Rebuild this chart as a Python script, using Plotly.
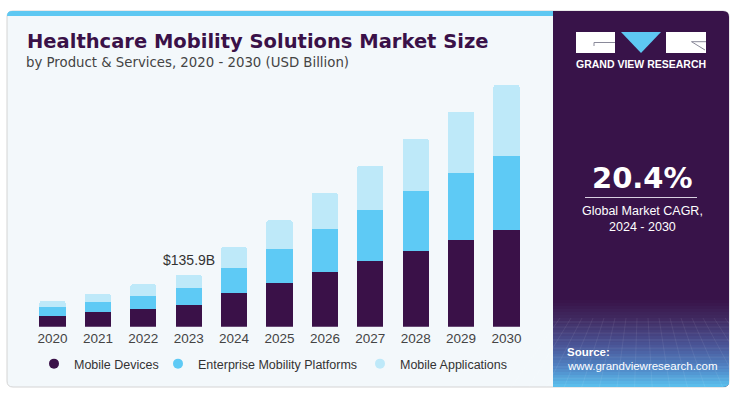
import plotly.graph_objects as go

years = ["2020", "2021", "2022", "2023", "2024", "2025", "2026", "2027", "2028", "2029", "2030"]
mobile_devices = [28.7, 38.4, 45.5, 55.9, 87.3, 115.0, 143.0, 170.9, 198.6, 226.6, 252.7]
enterprise_platforms = [22.0, 26.9, 35.5, 46.0, 66.1, 88.9, 112.4, 134.9, 156.0, 174.3, 194.2]
mobile_applications = [17.2, 20.9, 29.8, 34.0, 54.1, 74.2, 94.1, 114.2, 135.9, 161.0, 185.6]
series_names = ["Mobile Devices", "Enterprise Mobility Platforms", "Mobile Applications"]
highlight_year = "2023"
highlight_label = "$135.9B"
cagr_value = "20.4%"
cagr_text = "Global Market CAGR,<br>2024 - 2030"

W, H = 736, 396
C_DARK = "#3a1148"
C_MID = "#5ecaf5"
C_LIGHT = "#bee9f9"
C_PANEL = "#381349"
C_BG = "#f3f8fb"


def X(p):
    return p / W


def Y(p):
    return 1 - p / H


fig = go.Figure()
series = [mobile_devices, enterprise_platforms, mobile_applications]
colors = [C_DARK, C_MID, C_LIGHT]
legend_ids = ["legend", "legend2", "legend3"]
for name, vals, col in zip(series_names, series, colors):
    fig.add_trace(go.Bar(x=years, y=vals, name=name, marker=dict(color=col, line=dict(width=0)),
                         showlegend=False, hoverinfo="x+y+name"))
for name, col, lid in zip(series_names, colors, legend_ids):
    fig.add_trace(go.Scatter(x=[None], y=[None], mode="markers", name=name, legend=lid,
                             marker=dict(color=col, size=10, symbol="circle")))

shapes = []


def rrect(x0, y0, x1, y1, r_tl=0, r_tr=0, r_br=0, r_bl=0):
    s = f"M {X(x0 + r_tl)} {Y(y0)} L {X(x1 - r_tr)} {Y(y0)} "
    if r_tr:
        s += f"Q {X(x1)} {Y(y0)} {X(x1)} {Y(y0 + r_tr)} "
    s += f"L {X(x1)} {Y(y1 - r_br)} "
    if r_br:
        s += f"Q {X(x1)} {Y(y1)} {X(x1 - r_br)} {Y(y1)} "
    s += f"L {X(x0 + r_bl)} {Y(y1)} "
    if r_bl:
        s += f"Q {X(x0)} {Y(y1)} {X(x0)} {Y(y1 - r_bl)} "
    s += f"L {X(x0)} {Y(y0 + r_tl)} "
    if r_tl:
        s += f"Q {X(x0)} {Y(y0)} {X(x0 + r_tl)} {Y(y0)} "
    s += "Z"
    return s


# card background
shapes.append(dict(type="path", xref="paper", yref="paper", layer="below",
                   path=rrect(7, 11, 729, 387, 6, 6, 6, 6), fillcolor=C_BG,
                   line=dict(color="#d4d4d4", width=1)))
# top stripe
shapes.append(dict(type="path", xref="paper", yref="paper", layer="below",
                   path=rrect(7, 11, 553, 16, 5, 0, 0, 0), fillcolor="#5ec8f2", line=dict(width=0)))
# dark right panel
shapes.append(dict(type="path", xref="paper", yref="paper", layer="below",
                   path=rrect(553, 11, 729, 387, 0, 6, 6, 0), fillcolor=C_PANEL, line=dict(width=0)))


def hex2rgb(h):
    h = h.lstrip("#")
    return tuple(int(h[i:i + 2], 16) for i in (0, 2, 4))


stops = [(300, "#381349"), (318, "#40295f"), (345, "#4a5496"), (368, "#5086c6"), (387, "#5cc2ee")]
y = 300
step = 3
while y < 387:
    y1 = min(y + step, 387)
    ym = (y + y1) / 2
    c = hex2rgb(stops[-1][1])
    for i in range(len(stops) - 1):
        if stops[i][0] <= ym <= stops[i + 1][0]:
            t = (ym - stops[i][0]) / (stops[i + 1][0] - stops[i][0])
            a = hex2rgb(stops[i][1])
            b = hex2rgb(stops[i + 1][1])
            c = tuple(round(a[k] + (b[k] - a[k]) * t) for k in range(3))
            break
    col = "rgb(%d,%d,%d)" % c
    if y1 >= 387:
        shapes.append(dict(type="path", xref="paper", yref="paper", layer="below",
                           path=rrect(553, y, 729, 387, 0, 0, 6, 0), fillcolor=col, line=dict(width=0)))
    else:
        shapes.append(dict(type="rect", xref="paper", yref="paper", layer="below",
                           x0=X(553), x1=X(729), y0=Y(y), y1=Y(y1 + 0.6), fillcolor=col, line=dict(width=0)))
    y = y1

# faint grid lines in the gradient area
for gx in range(560, 729, 11):
    shapes.append(dict(type="line", xref="paper", yref="paper", layer="below",
                       x0=X(gx), x1=X(641 + (gx - 641) * 1.6), y0=Y(318), y1=Y(387),
                       line=dict(color="rgba(255,255,255,0.10)", width=0.7)))
for gy in [322, 327, 333, 340, 348, 357, 367, 378]:
    shapes.append(dict(type="line", xref="paper", yref="paper", layer="below",
                       x0=X(553), x1=X(729), y0=Y(gy), y1=Y(gy),
                       line=dict(color="rgba(255,255,255,0.10)", width=0.7)))

# logo
shapes.append(dict(type="rect", xref="paper", yref="paper", x0=X(576), x1=X(615), y0=Y(32), y1=Y(53),
                   fillcolor="white", line=dict(width=0)))
shapes.append(dict(type="path", xref="paper", yref="paper",
                   path=f"M {X(615)} {Y(42.5)} L {X(594)} {Y(42.5)} L {X(594)} {Y(46)}",
                   line=dict(color="#8a8a9a", width=1)))
shapes.append(dict(type="path", xref="paper", yref="paper",
                   path=f"M {X(621)} {Y(32)} L {X(661)} {Y(32)} L {X(641)} {Y(53)} Z",
                   fillcolor="#5ec8f2", line=dict(width=0)))
shapes.append(dict(type="rect", xref="paper", yref="paper", x0=X(666), x1=X(706), y0=Y(32), y1=Y(53),
                   fillcolor="white", line=dict(width=0)))
shapes.append(dict(type="path", xref="paper", yref="paper",
                   path=f"M {X(706)} {Y(41.7)} L {X(691.5)} {Y(41.7)} L {X(705)} {Y(50)}",
                   line=dict(color="#8a8a9a", width=1)))
# underline of CAGR
shapes.append(dict(type="line", xref="paper", yref="paper", x0=X(585), x1=X(697), y0=Y(197.5), y1=Y(197.5),
                   line=dict(color="#d8d0e0", width=1.2)))

annotations = [
    dict(text="Healthcare Mobility Solutions Market Size", x=X(25), y=Y(41), xanchor="left", yanchor="middle",
         font=dict(family="DejaVu Sans", size=19.5, color=C_DARK, weight="bold")),
    dict(text="by Product & Services, 2020 - 2030 (USD Billion)", x=X(24), y=Y(62), xanchor="left",
         yanchor="middle", font=dict(family="DejaVu Sans", size=13.3, color="#444444")),
    dict(text="GRAND VIEW RESEARCH", x=X(641), y=Y(64), xanchor="center", yanchor="middle",
         font=dict(family="Liberation Sans", size=10.5, color="white", weight="bold")),
    dict(text=cagr_value, x=X(642), y=Y(178), xanchor="center", yanchor="middle",
         font=dict(family="DejaVu Sans", size=29, color="white", weight="bold")),
    dict(text=cagr_text, x=X(642), y=Y(219), xanchor="center", yanchor="middle",
         font=dict(family="Liberation Sans", size=12.5, color="white")),
    dict(text="<b>Source:</b>", x=X(565), y=Y(352), xanchor="left", yanchor="middle",
         font=dict(family="Liberation Sans", size=11.5, color="white")),
    dict(text="www.grandviewresearch.com", x=X(565), y=Y(366), xanchor="left", yanchor="middle",
         font=dict(family="Liberation Sans", size=11.5, color="white")),
]
for a in annotations:
    a.update(xref="paper", yref="paper", showarrow=False)

hi = years.index(highlight_year)
total_hi = mobile_devices[hi] + enterprise_platforms[hi] + mobile_applications[hi]
annotations.append(dict(text=highlight_label, x=hi, y=total_hi, xref="x", yref="y",
                        showarrow=False, xanchor="center", yanchor="bottom", yshift=5,
                        font=dict(family="Liberation Sans", size=14, color="#333333")))

legend_font = dict(family="Liberation Sans", size=12.5, color="#333333")
legend_common = dict(orientation="h", xanchor="left", y=Y(364), yanchor="middle", font=legend_font,
                     bgcolor="rgba(0,0,0,0)", itemclick=False, itemdoubleclick=False)
marker_px = [58, 182, 384]

fig.update_layout(
    width=W, height=H,
    margin=dict(l=0, r=0, t=0, b=0),
    paper_bgcolor="white", plot_bgcolor="rgba(0,0,0,0)",
    barmode="stack", bargap=0.427, barcornerradius=2,
    shapes=shapes, annotations=annotations,
    xaxis=dict(type="category", categoryorder="array", categoryarray=years, range=[-0.5, 10.5],
               domain=[X(29.8), X(529.2)], showgrid=False, zeroline=False, showline=False, ticks="",
               tickfont=dict(family="Liberation Sans", size=13.5, color="#444444"), fixedrange=True,
               ticklabelstandoff=2),
    yaxis=dict(range=[0, 644.8], domain=[Y(326.7), Y(80)], showticklabels=False, showgrid=False,
               zeroline=False, showline=False, ticks="", fixedrange=True),
    legend=dict(x=X(marker_px[0] - 24), **legend_common),
    legend2=dict(x=X(marker_px[1] - 24), **legend_common),
    legend3=dict(x=X(marker_px[2] - 24), **legend_common),
    showlegend=True,
)

fig.write_html("out.html", config={"displayModeBar": False},
               post_script="document.body.style.margin='0';document.body.style.padding='0';")
